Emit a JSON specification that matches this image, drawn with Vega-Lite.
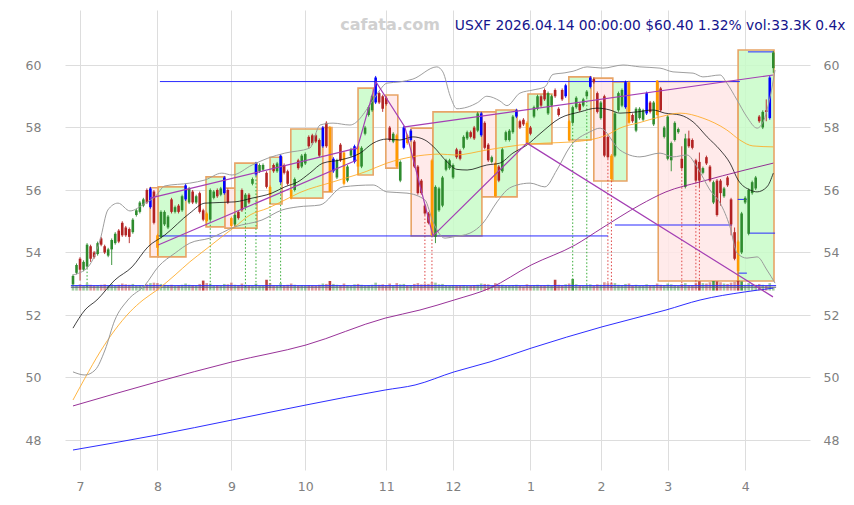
{
"$schema":"https://vega.github.io/schema/vega-lite/v6.json",
"width":745,"height":460,
"autosize":{"type":"none"},
"padding":{"left":65,"top":10,"right":44,"bottom":35},
"background":"white",
"config":{"view":{"stroke":null},"font":"DejaVu Sans"},
"datasets":{
"c":[
{"i":0,"o":52.98,"h":53.3,"l":52.95,"c":53.25,"v":70,"s":"g"},
{"i":1,"o":53.35,"h":53.65,"l":53.3,"c":53.6,"v":65,"s":"g"},
{"i":2,"o":53.8,"h":53.85,"l":53.1,"c":53.45,"v":75,"s":"r"},
{"i":3,"o":53.45,"h":53.75,"l":53.4,"c":53.7,"v":60,"s":"g"},
{"i":4,"o":53.55,"h":54.3,"l":53.5,"c":54.25,"v":85,"s":"g"},
{"i":5,"o":54.2,"h":54.25,"l":53.7,"c":53.8,"v":70,"s":"r"},
{"i":6,"o":54.0,"h":54.05,"l":53.8,"c":53.85,"v":60,"s":"r"},
{"i":7,"o":53.95,"h":54.35,"l":53.9,"c":54.3,"v":65,"s":"g"},
{"i":8,"o":54.45,"h":54.5,"l":54.2,"c":54.25,"v":70,"s":"r"},
{"i":9,"o":54.2,"h":54.25,"l":53.95,"c":54.0,"v":75,"s":"r"},
{"i":10,"o":53.9,"h":54.15,"l":53.85,"c":54.1,"v":60,"s":"g"},
{"i":11,"o":54.1,"h":54.45,"l":53.6,"c":54.4,"v":80,"s":"g"},
{"i":12,"o":54.3,"h":54.65,"l":54.25,"c":54.6,"v":65,"s":"g"},
{"i":13,"o":54.7,"h":54.75,"l":54.3,"c":54.35,"v":70,"s":"r"},
{"i":14,"o":54.95,"h":55.0,"l":54.5,"c":54.55,"v":85,"s":"r"},
{"i":15,"o":54.8,"h":54.85,"l":54.5,"c":54.55,"v":75,"s":"r"},
{"i":16,"o":54.75,"h":54.8,"l":54.3,"c":54.5,"v":70,"s":"r"},
{"i":17,"o":54.65,"h":55.1,"l":54.6,"c":55.05,"v":80,"s":"g"},
{"i":18,"o":55.2,"h":55.4,"l":55.15,"c":55.35,"v":60,"s":"g"},
{"i":19,"o":55.3,"h":55.65,"l":55.25,"c":55.6,"v":65,"s":"g"},
{"i":20,"o":55.5,"h":55.75,"l":55.45,"c":55.7,"v":60,"s":"g"},
{"i":21,"o":56.0,"h":56.05,"l":55.55,"c":55.6,"v":75,"s":"r"},
{"i":22,"o":55.45,"h":56.1,"l":55.4,"c":56.05,"v":90,"s":"b"},
{"i":23,"o":55.95,"h":56.0,"l":54.9,"c":54.95,"v":95,"s":"r"},
{"i":24,"o":54.55,"h":54.6,"l":53.9,"c":54.15,"v":90,"s":"o"},
{"i":25,"o":54.5,"h":55.35,"l":54.45,"c":55.3,"v":80,"s":"g"},
{"i":26,"o":54.9,"h":55.35,"l":54.85,"c":55.3,"v":70,"s":"g"},
{"i":27,"o":54.8,"h":55.2,"l":54.75,"c":55.15,"v":65,"s":"g"},
{"i":28,"o":55.7,"h":55.75,"l":55.25,"c":55.3,"v":70,"s":"r"},
{"i":29,"o":55.3,"h":55.5,"l":55.25,"c":55.45,"v":55,"s":"g"},
{"i":30,"o":55.5,"h":55.55,"l":55.25,"c":55.3,"v":60,"s":"r"},
{"i":31,"o":55.35,"h":55.85,"l":55.3,"c":55.8,"v":70,"s":"g"},
{"i":32,"o":55.7,"h":56.2,"l":55.65,"c":56.15,"v":85,"s":"b"},
{"i":33,"o":55.6,"h":56.1,"l":55.55,"c":56.05,"v":70,"s":"g"},
{"i":34,"o":55.95,"h":56.0,"l":55.55,"c":55.6,"v":65,"s":"r"},
{"i":35,"o":55.6,"h":55.85,"l":55.55,"c":55.8,"v":60,"s":"g"},
{"i":36,"o":55.9,"h":55.95,"l":55.25,"c":55.3,"v":80,"s":"r"},
{"i":37,"o":55.35,"h":55.4,"l":55.0,"c":55.05,"v":120,"s":"r"},
{"i":38,"o":55.25,"h":55.3,"l":54.85,"c":55.0,"v":90,"s":"o"},
{"i":39,"o":55.05,"h":56.05,"l":55.0,"c":56.0,"v":85,"s":"g"},
{"i":40,"o":55.75,"h":56.0,"l":55.7,"c":55.95,"v":60,"s":"g"},
{"i":41,"o":56.0,"h":56.05,"l":55.75,"c":55.8,"v":65,"s":"r"},
{"i":42,"o":55.85,"h":56.1,"l":55.8,"c":56.05,"v":60,"s":"g"},
{"i":43,"o":55.9,"h":56.45,"l":55.85,"c":56.4,"v":80,"s":"b"},
{"i":44,"o":56.0,"h":56.05,"l":55.55,"c":55.6,"v":75,"s":"r"},
{"i":45,"o":55.1,"h":55.15,"l":54.8,"c":54.85,"v":95,"s":"o"},
{"i":46,"o":54.9,"h":55.25,"l":54.85,"c":55.2,"v":70,"s":"g"},
{"i":47,"o":55.3,"h":55.35,"l":55.05,"c":55.1,"v":65,"s":"r"},
{"i":48,"o":56.0,"h":56.05,"l":55.3,"c":55.35,"v":85,"s":"r"},
{"i":49,"o":55.45,"h":55.9,"l":55.4,"c":55.85,"v":70,"s":"g"},
{"i":50,"o":55.85,"h":55.9,"l":55.55,"c":55.6,"v":65,"s":"r"},
{"i":51,"o":56.2,"h":56.4,"l":56.15,"c":56.35,"v":60,"s":"g"},
{"i":52,"o":56.5,"h":56.9,"l":56.45,"c":56.85,"v":85,"s":"b"},
{"i":53,"o":56.6,"h":56.85,"l":56.55,"c":56.8,"v":55,"s":"g"},
{"i":54,"o":56.65,"h":56.85,"l":56.6,"c":56.8,"v":55,"s":"g"},
{"i":55,"o":56.55,"h":56.6,"l":56.05,"c":56.1,"v":130,"s":"r"},
{"i":56,"o":56.1,"h":56.15,"l":55.6,"c":55.85,"v":90,"s":"o"},
{"i":57,"o":56.8,"h":56.85,"l":56.55,"c":56.6,"v":60,"s":"r"},
{"i":58,"o":56.6,"h":56.9,"l":56.55,"c":56.85,"v":60,"s":"g"},
{"i":59,"o":56.25,"h":57.15,"l":56.2,"c":57.1,"v":90,"s":"b"},
{"i":60,"o":56.8,"h":56.85,"l":56.5,"c":56.55,"v":65,"s":"r"},
{"i":61,"o":56.6,"h":56.65,"l":56.15,"c":56.2,"v":70,"s":"r"},
{"i":62,"o":56.0,"h":56.05,"l":55.7,"c":55.75,"v":85,"s":"o"},
{"i":63,"o":56.0,"h":56.4,"l":55.95,"c":56.35,"v":70,"s":"g"},
{"i":64,"o":56.95,"h":57.0,"l":56.65,"c":56.7,"v":60,"s":"r"},
{"i":65,"o":56.75,"h":57.15,"l":56.7,"c":57.1,"v":65,"s":"g"},
{"i":66,"o":56.85,"h":57.2,"l":56.8,"c":57.15,"v":60,"s":"g"},
{"i":67,"o":57.7,"h":57.75,"l":57.35,"c":57.4,"v":65,"s":"r"},
{"i":68,"o":57.75,"h":57.8,"l":57.45,"c":57.5,"v":60,"s":"r"},
{"i":69,"o":57.75,"h":57.8,"l":57.5,"c":57.55,"v":55,"s":"r"},
{"i":70,"o":57.6,"h":57.65,"l":57.05,"c":57.1,"v":70,"s":"r"},
{"i":71,"o":57.4,"h":58.05,"l":57.35,"c":58.0,"v":85,"s":"b"},
{"i":72,"o":58.15,"h":58.2,"l":57.35,"c":57.4,"v":80,"s":"r"},
{"i":73,"o":58.0,"h":58.05,"l":55.94,"c":55.95,"v":115,"s":"o"},
{"i":74,"o":56.6,"h":57.05,"l":56.55,"c":57.0,"v":80,"s":"b"},
{"i":75,"o":56.4,"h":57.0,"l":56.35,"c":56.95,"v":70,"s":"g"},
{"i":76,"o":57.45,"h":57.5,"l":56.9,"c":56.95,"v":65,"s":"r"},
{"i":77,"o":57.2,"h":57.25,"l":56.15,"c":56.2,"v":85,"s":"o"},
{"i":78,"o":56.3,"h":56.8,"l":56.25,"c":56.75,"v":65,"s":"g"},
{"i":79,"o":57.1,"h":57.35,"l":57.05,"c":57.3,"v":55,"s":"g"},
{"i":80,"o":56.9,"h":57.45,"l":56.85,"c":57.4,"v":75,"s":"b"},
{"i":81,"o":57.4,"h":57.45,"l":56.48,"c":56.75,"v":80,"s":"o"},
{"i":82,"o":56.75,"h":57.4,"l":56.7,"c":57.35,"v":70,"s":"g"},
{"i":83,"o":57.8,"h":58.05,"l":57.75,"c":58.0,"v":60,"s":"g"},
{"i":84,"o":58.4,"h":58.7,"l":58.35,"c":58.65,"v":65,"s":"g"},
{"i":85,"o":58.55,"h":59.05,"l":58.5,"c":59.0,"v":70,"s":"g"},
{"i":86,"o":58.8,"h":59.65,"l":58.75,"c":59.6,"v":95,"s":"b"},
{"i":87,"o":59.1,"h":59.15,"l":58.75,"c":58.8,"v":70,"s":"r"},
{"i":88,"o":59.0,"h":59.05,"l":58.5,"c":58.6,"v":75,"s":"r"},
{"i":89,"o":58.95,"h":59.0,"l":58.7,"c":58.75,"v":60,"s":"r"},
{"i":90,"o":58.0,"h":58.05,"l":57.55,"c":57.6,"v":85,"s":"r"},
{"i":91,"o":57.55,"h":57.85,"l":57.5,"c":57.8,"v":60,"s":"g"},
{"i":92,"o":57.75,"h":57.8,"l":56.7,"c":56.75,"v":90,"s":"o"},
{"i":93,"o":56.3,"h":56.95,"l":56.25,"c":56.9,"v":75,"s":"g"},
{"i":94,"o":57.35,"h":58.05,"l":57.3,"c":58.0,"v":80,"s":"b"},
{"i":95,"o":57.75,"h":57.8,"l":57.45,"c":57.5,"v":60,"s":"o"},
{"i":96,"o":57.6,"h":57.95,"l":57.55,"c":57.9,"v":65,"s":"b"},
{"i":97,"o":57.55,"h":57.6,"l":56.7,"c":56.75,"v":80,"s":"r"},
{"i":98,"o":56.75,"h":56.8,"l":55.85,"c":55.9,"v":90,"s":"r"},
{"i":99,"o":56.3,"h":56.35,"l":55.85,"c":55.9,"v":75,"s":"r"},
{"i":100,"o":55.5,"h":55.55,"l":55.2,"c":55.25,"v":85,"s":"r"},
{"i":101,"o":55.25,"h":55.3,"l":54.9,"c":54.95,"v":80,"s":"r"},
{"i":102,"o":56.95,"h":57.0,"l":54.53,"c":54.55,"v":100,"s":"o"},
{"i":103,"o":54.5,"h":56.15,"l":54.3,"c":56.1,"v":95,"s":"g"},
{"i":104,"o":55.35,"h":56.1,"l":55.3,"c":56.05,"v":75,"s":"g"},
{"i":105,"o":55.5,"h":56.45,"l":55.45,"c":56.4,"v":80,"s":"g"},
{"i":106,"o":56.65,"h":57.0,"l":56.6,"c":56.95,"v":65,"s":"g"},
{"i":107,"o":56.7,"h":57.0,"l":56.65,"c":56.95,"v":60,"s":"g"},
{"i":108,"o":56.4,"h":56.85,"l":56.35,"c":56.8,"v":65,"s":"g"},
{"i":109,"o":57.3,"h":57.35,"l":57.0,"c":57.05,"v":60,"s":"r"},
{"i":110,"o":57.25,"h":57.3,"l":56.95,"c":57.0,"v":60,"s":"r"},
{"i":111,"o":57.35,"h":57.75,"l":57.3,"c":57.7,"v":65,"s":"g"},
{"i":112,"o":57.65,"h":57.9,"l":57.6,"c":57.85,"v":55,"s":"g"},
{"i":113,"o":57.85,"h":57.9,"l":57.65,"c":57.7,"v":55,"s":"r"},
{"i":114,"o":58.0,"h":58.05,"l":57.6,"c":57.65,"v":65,"s":"r"},
{"i":115,"o":57.9,"h":58.5,"l":57.85,"c":58.45,"v":70,"s":"g"},
{"i":116,"o":57.75,"h":58.5,"l":57.7,"c":58.45,"v":85,"s":"b"},
{"i":117,"o":58.15,"h":58.2,"l":57.3,"c":57.35,"v":80,"s":"r"},
{"i":118,"o":57.45,"h":57.5,"l":56.9,"c":56.95,"v":75,"s":"r"},
{"i":119,"o":56.9,"h":57.1,"l":56.85,"c":57.05,"v":55,"s":"g"},
{"i":120,"o":56.85,"h":56.9,"l":55.78,"c":55.8,"v":90,"s":"o"},
{"i":121,"o":56.75,"h":56.8,"l":56.25,"c":56.3,"v":70,"s":"r"},
{"i":122,"o":56.6,"h":57.35,"l":56.55,"c":57.3,"v":70,"s":"g"},
{"i":123,"o":57.6,"h":57.9,"l":57.55,"c":57.85,"v":60,"s":"g"},
{"i":124,"o":57.6,"h":57.95,"l":57.55,"c":57.9,"v":60,"s":"g"},
{"i":125,"o":57.85,"h":58.4,"l":57.8,"c":58.35,"v":65,"s":"g"},
{"i":126,"o":58.35,"h":58.6,"l":58.3,"c":58.55,"v":70,"s":"b"},
{"i":127,"o":58.2,"h":58.25,"l":57.95,"c":58.0,"v":55,"s":"r"},
{"i":128,"o":58.25,"h":58.3,"l":58.05,"c":58.1,"v":50,"s":"r"},
{"i":129,"o":58.15,"h":58.2,"l":57.47,"c":57.5,"v":75,"s":"o"},
{"i":130,"o":58.0,"h":58.05,"l":57.75,"c":57.8,"v":60,"s":"r"},
{"i":131,"o":58.35,"h":58.7,"l":58.3,"c":58.65,"v":65,"s":"g"},
{"i":132,"o":58.6,"h":59.05,"l":58.55,"c":59.0,"v":70,"s":"g"},
{"i":133,"o":59.0,"h":59.05,"l":58.65,"c":58.7,"v":60,"s":"r"},
{"i":134,"o":59.2,"h":59.25,"l":58.85,"c":58.9,"v":60,"s":"r"},
{"i":135,"o":58.45,"h":59.15,"l":58.4,"c":59.1,"v":70,"s":"g"},
{"i":136,"o":58.7,"h":59.05,"l":58.65,"c":59.0,"v":55,"s":"g"},
{"i":137,"o":59.2,"h":59.25,"l":58.95,"c":59.0,"v":130,"s":"r"},
{"i":138,"o":58.6,"h":58.65,"l":58.35,"c":58.4,"v":70,"s":"r"},
{"i":139,"o":59.2,"h":59.25,"l":58.85,"c":58.9,"v":60,"s":"r"},
{"i":140,"o":59.0,"h":59.4,"l":58.95,"c":59.35,"v":75,"s":"b"},
{"i":141,"o":58.2,"h":58.25,"l":57.55,"c":57.6,"v":85,"s":"o"},
{"i":142,"o":58.15,"h":58.7,"l":58.1,"c":58.65,"v":140,"s":"g"},
{"i":143,"o":58.65,"h":59.0,"l":58.6,"c":58.95,"v":75,"s":"g"},
{"i":144,"o":58.75,"h":58.8,"l":58.5,"c":58.55,"v":60,"s":"r"},
{"i":145,"o":58.7,"h":58.95,"l":58.65,"c":58.9,"v":55,"s":"g"},
{"i":146,"o":59.0,"h":59.2,"l":58.95,"c":59.15,"v":60,"s":"g"},
{"i":147,"o":59.3,"h":59.65,"l":59.25,"c":59.6,"v":75,"s":"b"},
{"i":148,"o":59.55,"h":59.6,"l":59.4,"c":59.45,"v":55,"s":"r"},
{"i":149,"o":59.1,"h":59.15,"l":58.45,"c":58.5,"v":75,"s":"r"},
{"i":150,"o":58.3,"h":58.85,"l":58.25,"c":58.8,"v":70,"s":"g"},
{"i":151,"o":59.0,"h":59.05,"l":57.05,"c":57.1,"v":100,"s":"r"},
{"i":152,"o":57.7,"h":57.75,"l":57.0,"c":57.05,"v":90,"s":"r"},
{"i":153,"o":57.1,"h":57.15,"l":56.29,"c":56.35,"v":95,"s":"o"},
{"i":154,"o":57.1,"h":58.5,"l":57.05,"c":58.45,"v":90,"s":"g"},
{"i":155,"o":58.55,"h":59.15,"l":58.5,"c":59.1,"v":70,"s":"g"},
{"i":156,"o":58.7,"h":59.25,"l":58.65,"c":59.2,"v":65,"s":"g"},
{"i":157,"o":58.65,"h":59.5,"l":58.6,"c":59.45,"v":80,"s":"b"},
{"i":158,"o":59.45,"h":59.5,"l":58.1,"c":58.15,"v":85,"s":"o"},
{"i":159,"o":58.4,"h":58.45,"l":58.15,"c":58.2,"v":60,"s":"r"},
{"i":160,"o":57.9,"h":58.65,"l":57.85,"c":58.6,"v":70,"s":"g"},
{"i":161,"o":58.3,"h":58.65,"l":58.25,"c":58.6,"v":55,"s":"g"},
{"i":162,"o":58.25,"h":58.6,"l":58.2,"c":58.55,"v":55,"s":"g"},
{"i":163,"o":58.45,"h":59.15,"l":58.4,"c":59.1,"v":75,"s":"b"},
{"i":164,"o":58.8,"h":58.85,"l":58.45,"c":58.5,"v":60,"s":"r"},
{"i":165,"o":58.1,"h":58.85,"l":58.05,"c":58.8,"v":65,"s":"g"},
{"i":166,"o":59.5,"h":59.52,"l":58.35,"c":58.4,"v":85,"s":"o"},
{"i":167,"o":59.25,"h":59.3,"l":58.5,"c":58.55,"v":70,"s":"r"},
{"i":168,"o":57.7,"h":58.05,"l":57.65,"c":58.0,"v":65,"s":"g"},
{"i":169,"o":57.0,"h":58.4,"l":56.95,"c":58.35,"v":85,"s":"g"},
{"i":170,"o":56.95,"h":57.55,"l":56.6,"c":57.5,"v":75,"s":"g"},
{"i":171,"o":57.6,"h":58.2,"l":57.55,"c":58.15,"v":65,"s":"g"},
{"i":172,"o":57.85,"h":58.0,"l":57.8,"c":57.95,"v":55,"s":"g"},
{"i":173,"o":57.0,"h":57.4,"l":56.65,"c":56.7,"v":80,"s":"r"},
{"i":174,"o":56.1,"h":57.8,"l":56.05,"c":57.65,"v":90,"s":"g"},
{"i":175,"o":57.65,"h":57.9,"l":57.35,"c":57.4,"v":65,"s":"r"},
{"i":176,"o":57.6,"h":57.65,"l":57.3,"c":57.35,"v":65,"s":"r"},
{"i":177,"o":56.95,"h":57.0,"l":56.25,"c":56.3,"v":95,"s":"r"},
{"i":178,"o":56.9,"h":57.2,"l":56.1,"c":56.3,"v":110,"s":"r"},
{"i":179,"o":56.55,"h":56.75,"l":56.5,"c":56.7,"v":90,"s":"g"},
{"i":180,"o":57.05,"h":57.1,"l":56.8,"c":56.85,"v":85,"s":"r"},
{"i":181,"o":56.75,"h":56.8,"l":56.25,"c":56.3,"v":100,"s":"r"},
{"i":182,"o":55.6,"h":56.3,"l":55.55,"c":56.25,"v":115,"s":"g"},
{"i":183,"o":56.3,"h":56.35,"l":55.15,"c":55.2,"v":110,"s":"r"},
{"i":184,"o":56.3,"h":56.35,"l":55.5,"c":55.9,"v":100,"s":"r"},
{"i":185,"o":55.8,"h":56.1,"l":55.75,"c":56.05,"v":85,"s":"g"},
{"i":186,"o":56.4,"h":56.45,"l":56.1,"c":56.15,"v":80,"s":"r"},
{"i":187,"o":55.7,"h":55.75,"l":54.55,"c":54.9,"v":95,"s":"r"},
{"i":188,"o":54.65,"h":54.8,"l":53.75,"c":53.8,"v":105,"s":"r"},
{"i":189,"o":54.35,"h":54.4,"l":53.1,"c":53.4,"v":120,"s":"o"},
{"i":190,"o":54.0,"h":55.3,"l":53.95,"c":55.25,"v":110,"s":"g"},
{"i":191,"o":55.6,"h":55.8,"l":55.55,"c":55.75,"v":70,"s":"g"},
{"i":192,"o":54.6,"h":56.05,"l":54.55,"c":56.0,"v":90,"s":"g"},
{"i":193,"o":55.9,"h":56.3,"l":55.85,"c":56.25,"v":75,"s":"g"},
{"i":194,"o":56.05,"h":56.45,"l":56.0,"c":56.4,"v":70,"s":"g"},
{"i":195,"o":58.35,"h":58.4,"l":58.15,"c":58.2,"v":80,"s":"r"},
{"i":196,"o":58.0,"h":58.55,"l":57.95,"c":58.5,"v":70,"s":"g"},
{"i":197,"o":58.55,"h":58.9,"l":58.2,"c":58.5,"v":55,"s":"r"},
{"i":198,"o":58.3,"h":59.65,"l":58.25,"c":59.6,"v":90,"s":"b"},
{"i":199,"o":59.9,"h":60.45,"l":59.75,"c":60.4,"v":33.3,"s":"g"}
],
"boxes":[
{"i":21.9,"i2":24.2,"p1":53.86,"p2":56.07,"t":"r"},
{"i":24.2,"i2":32.1,"p1":53.86,"p2":56.1,"t":"g"},
{"i":37.8,"i2":43.2,"p1":54.82,"p2":56.42,"t":"g"},
{"i":43.2,"i2":46.0,"p1":54.78,"p2":56.06,"t":"r"},
{"i":46.0,"i2":52.3,"p1":54.78,"p2":56.86,"t":"g"},
{"i":56.0,"i2":59.4,"p1":55.55,"p2":57.05,"t":"g"},
{"i":61.9,"i2":71.0,"p1":55.74,"p2":57.95,"t":"g"},
{"i":71.0,"i2":73.6,"p1":55.94,"p2":58.0,"t":"r"},
{"i":81.0,"i2":85.3,"p1":56.48,"p2":59.26,"t":"g"},
{"i":88.9,"i2":92.3,"p1":56.7,"p2":59.04,"t":"r"},
{"i":96.1,"i2":102.3,"p1":54.53,"p2":57.98,"t":"r"},
{"i":102.3,"i2":116.2,"p1":54.53,"p2":58.5,"t":"g"},
{"i":116.2,"i2":120.2,"p1":55.78,"p2":58.5,"t":"r"},
{"i":120.2,"i2":126.2,"p1":55.78,"p2":58.56,"t":"g"},
{"i":129.3,"i2":136.1,"p1":57.47,"p2":59.07,"t":"g"},
{"i":140.9,"i2":147.2,"p1":57.6,"p2":59.62,"t":"g"},
{"i":148.0,"i2":153.4,"p1":56.29,"p2":59.58,"t":"r"},
{"i":153.4,"i2":157.4,"p1":56.29,"p2":59.46,"t":"g"},
{"i":166.3,"i2":189.0,"p1":53.09,"p2":59.47,"t":"r"},
{"i":189.0,"i2":199.2,"p1":53.09,"p2":60.48,"t":"g"}
],
"lines":[
{"k":"ma20","i":0,"v":51.58},{"k":"ma20","i":3.4,"v":52.16},{"k":"ma20","i":6.8,"v":52.48},{"k":"ma20","i":11.9,"v":53.12},{"k":"ma20","i":16.8,"v":53.54},{"k":"ma20","i":21.3,"v":54.18},{"k":"ma20","i":26.1,"v":54.56},{"k":"ma20","i":33.2,"v":55.26},{"k":"ma20","i":37.5,"v":55.58},{"k":"ma20","i":46,"v":55.62},{"k":"ma20","i":50.9,"v":55.74},{"k":"ma20","i":56.5,"v":55.9},{"k":"ma20","i":60.2,"v":56.1},{"k":"ma20","i":63.9,"v":56.26},{"k":"ma20","i":67.3,"v":56.54},{"k":"ma20","i":71,"v":56.86},{"k":"ma20","i":75.9,"v":56.96},{"k":"ma20","i":81.6,"v":57.18},{"k":"ma20","i":85.3,"v":57.5},{"k":"ma20","i":89.2,"v":57.63},{"k":"ma20","i":92.9,"v":57.6},{"k":"ma20","i":96.6,"v":57.7},{"k":"ma20","i":100,"v":57.6},{"k":"ma20","i":102.3,"v":57.4},{"k":"ma20","i":106.3,"v":56.9},{"k":"ma20","i":109.1,"v":56.66},{"k":"ma20","i":112,"v":56.64},{"k":"ma20","i":117.6,"v":56.8},{"k":"ma20","i":121.3,"v":56.86},{"k":"ma20","i":125,"v":57.18},{"k":"ma20","i":129,"v":57.44},{"k":"ma20","i":132.7,"v":57.8},{"k":"ma20","i":138.4,"v":58.3},{"k":"ma20","i":144.1,"v":58.5},{"k":"ma20","i":148.9,"v":58.62},{"k":"ma20","i":152.6,"v":58.56},{"k":"ma20","i":155.4,"v":58.46},{"k":"ma20","i":160.3,"v":58.5},{"k":"ma20","i":164.8,"v":58.56},{"k":"ma20","i":168.2,"v":58.46},{"k":"ma20","i":172.5,"v":58.4},{"k":"ma20","i":176.2,"v":58.18},{"k":"ma20","i":180.2,"v":57.7},{"k":"ma20","i":183.9,"v":57.28},{"k":"ma20","i":186.7,"v":56.86},{"k":"ma20","i":189,"v":56.32},{"k":"ma20","i":192.4,"v":56.0},{"k":"ma20","i":194.4,"v":55.94},{"k":"ma20","i":197.2,"v":56.1},{"k":"ma20","i":199,"v":56.54},
{"k":"ma50","i":0,"v":49.28},{"k":"ma50","i":3.4,"v":49.98},{"k":"ma50","i":7.7,"v":50.82},{"k":"ma50","i":11.9,"v":51.52},{"k":"ma50","i":16.2,"v":52.1},{"k":"ma50","i":19.9,"v":52.48},{"k":"ma50","i":23.9,"v":52.8},{"k":"ma50","i":29,"v":53.28},{"k":"ma50","i":33.2,"v":53.7},{"k":"ma50","i":37.5,"v":54.08},{"k":"ma50","i":41.8,"v":54.46},{"k":"ma50","i":46,"v":54.82},{"k":"ma50","i":50.3,"v":55.2},{"k":"ma50","i":55.4,"v":55.42},{"k":"ma50","i":60.2,"v":55.68},{"k":"ma50","i":64.5,"v":55.92},{"k":"ma50","i":73.9,"v":56.26},{"k":"ma50","i":83.5,"v":56.6},{"k":"ma50","i":89.2,"v":56.86},{"k":"ma50","i":92.9,"v":56.98},{"k":"ma50","i":100,"v":57.12},{"k":"ma50","i":104.3,"v":57.15},{"k":"ma50","i":108.6,"v":57.12},{"k":"ma50","i":117.6,"v":57.28},{"k":"ma50","i":127,"v":57.44},{"k":"ma50","i":134.1,"v":57.5},{"k":"ma50","i":142.1,"v":57.54},{"k":"ma50","i":151.7,"v":57.76},{"k":"ma50","i":155.4,"v":57.98},{"k":"ma50","i":161.1,"v":58.16},{"k":"ma50","i":166.8,"v":58.34},{"k":"ma50","i":172.5,"v":58.46},{"k":"ma50","i":179,"v":58.3},{"k":"ma50","i":185.8,"v":57.92},{"k":"ma50","i":189.5,"v":57.6},{"k":"ma50","i":193.2,"v":57.41},{"k":"ma50","i":199,"v":57.38},
{"k":"ma100","i":0,"v":49.09},{"k":"ma100","i":23.9,"v":49.86},{"k":"ma100","i":45.2,"v":50.5},{"k":"ma100","i":66.2,"v":51.04},{"k":"ma100","i":88.7,"v":51.9},{"k":"ma100","i":98.6,"v":52.16},{"k":"ma100","i":108.3,"v":52.48},{"k":"ma100","i":118.5,"v":52.86},{"k":"ma100","i":130.2,"v":53.6},{"k":"ma100","i":142.7,"v":54.24},{"k":"ma100","i":150.3,"v":54.78},{"k":"ma100","i":161.1,"v":55.52},{"k":"ma100","i":168.5,"v":55.94},{"k":"ma100","i":178.2,"v":56.26},{"k":"ma100","i":191,"v":56.64},{"k":"ma100","i":199,"v":56.86},
{"k":"ma200","i":0,"v":47.68},{"k":"ma200","i":23.9,"v":48.16},{"k":"ma200","i":45.2,"v":48.64},{"k":"ma200","i":66.2,"v":49.12},{"k":"ma200","i":88.7,"v":49.6},{"k":"ma200","i":97.2,"v":49.76},{"k":"ma200","i":108.3,"v":50.18},{"k":"ma200","i":118.5,"v":50.5},{"k":"ma200","i":130.2,"v":50.94},{"k":"ma200","i":150.3,"v":51.62},{"k":"ma200","i":168.5,"v":52.16},{"k":"ma200","i":178.2,"v":52.48},{"k":"ma200","i":191,"v":52.74},{"k":"ma200","i":199,"v":52.86},
{"k":"bbu","i":0,"v":53.28},{"k":"bbu","i":4.3,"v":53.54},{"k":"bbu","i":7.7,"v":54.4},{"k":"bbu","i":9.9,"v":55.36},{"k":"bbu","i":12.8,"v":55.58},{"k":"bbu","i":16.2,"v":55.33},{"k":"bbu","i":20.5,"v":55.58},{"k":"bbu","i":23.3,"v":55.78},{"k":"bbu","i":26.1,"v":56.13},{"k":"bbu","i":33.2,"v":56.22},{"k":"bbu","i":37.5,"v":56.32},{"k":"bbu","i":42.3,"v":56.54},{"k":"bbu","i":45.2,"v":56.48},{"k":"bbu","i":50.9,"v":56.8},{"k":"bbu","i":55.4,"v":57.02},{"k":"bbu","i":60.2,"v":57.18},{"k":"bbu","i":67.3,"v":57.34},{"k":"bbu","i":70.2,"v":58.08},{"k":"bbu","i":73.9,"v":58.14},{"k":"bbu","i":78.7,"v":58.08},{"k":"bbu","i":85.3,"v":58.88},{"k":"bbu","i":87.2,"v":59.2},{"k":"bbu","i":89.2,"v":59.42},{"k":"bbu","i":92.9,"v":59.46},{"k":"bbu","i":96.6,"v":59.55},{"k":"bbu","i":103.4,"v":59.94},{"k":"bbu","i":105.1,"v":59.78},{"k":"bbu","i":107.2,"v":59.0},{"k":"bbu","i":109.1,"v":58.6},{"k":"bbu","i":112,"v":58.65},{"k":"bbu","i":115,"v":58.8},{"k":"bbu","i":117.6,"v":59.0},{"k":"bbu","i":121.3,"v":58.85},{"k":"bbu","i":123.3,"v":58.7},{"k":"bbu","i":127,"v":59.1},{"k":"bbu","i":130.7,"v":59.2},{"k":"bbu","i":134.1,"v":59.3},{"k":"bbu","i":136.4,"v":59.7},{"k":"bbu","i":139.8,"v":59.75},{"k":"bbu","i":142.1,"v":59.8},{"k":"bbu","i":146.1,"v":59.94},{"k":"bbu","i":150.6,"v":59.9},{"k":"bbu","i":156.3,"v":60.0},{"k":"bbu","i":161.1,"v":59.94},{"k":"bbu","i":166.8,"v":59.9},{"k":"bbu","i":170.5,"v":59.78},{"k":"bbu","i":176.2,"v":59.74},{"k":"bbu","i":179,"v":59.62},{"k":"bbu","i":183.9,"v":59.68},{"k":"bbu","i":185.8,"v":59.42},{"k":"bbu","i":188.7,"v":58.88},{"k":"bbu","i":191.5,"v":58.34},{"k":"bbu","i":194.4,"v":57.98},{"k":"bbu","i":196.1,"v":58.18},{"k":"bbu","i":198.1,"v":58.98},{"k":"bbu","i":199.5,"v":59.84},
{"k":"bbl","i":0,"v":50.18},{"k":"bbl","i":3.4,"v":50.08},{"k":"bbl","i":6.3,"v":50.24},{"k":"bbl","i":9.1,"v":50.88},{"k":"bbl","i":11.9,"v":51.84},{"k":"bbl","i":15.6,"v":52.48},{"k":"bbl","i":20.5,"v":52.96},{"k":"bbl","i":24.2,"v":53.54},{"k":"bbl","i":29,"v":53.98},{"k":"bbl","i":33.2,"v":54.3},{"k":"bbl","i":38.9,"v":54.46},{"k":"bbl","i":46,"v":54.82},{"k":"bbl","i":53.7,"v":55.04},{"k":"bbl","i":59.4,"v":55.36},{"k":"bbl","i":63.9,"v":55.46},{"k":"bbl","i":70.2,"v":55.52},{"k":"bbl","i":76.7,"v":56.1},{"k":"bbl","i":85.3,"v":56.16},{"k":"bbl","i":89.2,"v":55.94},{"k":"bbl","i":94.9,"v":55.9},{"k":"bbl","i":100,"v":55.68},{"k":"bbl","i":102.3,"v":54.98},{"k":"bbl","i":105.7,"v":54.46},{"k":"bbl","i":108,"v":54.5},{"k":"bbl","i":112.8,"v":54.62},{"k":"bbl","i":116.5,"v":54.94},{"k":"bbl","i":120.5,"v":55.62},{"k":"bbl","i":123.3,"v":56.0},{"k":"bbl","i":126.2,"v":56.16},{"k":"bbl","i":129.9,"v":56.22},{"k":"bbl","i":134.1,"v":56.1},{"k":"bbl","i":137.5,"v":56.64},{"k":"bbl","i":141.2,"v":57.38},{"k":"bbl","i":146.9,"v":57.86},{"k":"bbl","i":149.8,"v":57.98},{"k":"bbl","i":155.4,"v":57.28},{"k":"bbl","i":161.1,"v":57.06},{"k":"bbl","i":166.8,"v":57.18},{"k":"bbl","i":170.5,"v":57.06},{"k":"bbl","i":174.5,"v":57.12},{"k":"bbl","i":177.3,"v":56.74},{"k":"bbl","i":181,"v":56.0},{"k":"bbl","i":183.9,"v":55.58},{"k":"bbl","i":186.7,"v":54.82},{"k":"bbl","i":188.7,"v":53.98},{"k":"bbl","i":191.5,"v":53.82},{"k":"bbl","i":194.4,"v":53.86},{"k":"bbl","i":197.2,"v":53.44},{"k":"bbl","i":199.5,"v":53.02}
],
"tl":[
{"g":"a","i":21.9,"v":55.74},{"g":"a","i":80.7,"v":57.34},
{"g":"b","i":24.2,"v":54.24},{"g":"b","i":80.7,"v":56.96},
{"g":"z","i":80.7,"v":57.3},{"g":"z","i":86.1,"v":59.46},{"g":"z","i":94.3,"v":58.02},{"g":"z","i":102.3,"v":54.53},{"g":"z","i":129,"v":57.5},{"g":"z","i":198.9,"v":52.58},
{"g":"u","i":94.3,"v":58.02},{"g":"u","i":198.9,"v":59.68}
],
"hl":[
{"i":24.7,"i2":189.5,"v":59.47,"k":"b"},
{"i":23.9,"i2":152,"v":54.53,"k":"b"},
{"i":154,"i2":187.3,"v":54.88,"k":"b"},
{"i":188.9,"i2":191.5,"v":55.7,"k":"b"},
{"i":191.8,"i2":199.5,"v":54.62,"k":"b"},
{"i":188.9,"i2":191.5,"v":53.34,"k":"b"},
{"i":191.8,"i2":199,"v":60.42,"k":"b"},
{"i":-0.6,"i2":199.8,"v":52.94,"k":"b"},
{"i":-0.6,"i2":199.8,"v":52.89,"k":"d"}
],
"dots":[
{"i":4,"lo":53.5,"k":"g"},{"i":39,"lo":55.0,"k":"g"},{"i":49,"lo":55.4,"k":"g"},{"i":52,"lo":56.45,"k":"g"},{"i":56,"lo":55.6,"k":"g"},{"i":59,"lo":56.2,"k":"g"},{"i":142,"lo":58.1,"k":"g"},{"i":146,"lo":58.95,"k":"g"},
{"i":100,"lo":55.2,"k":"r"},{"i":102,"lo":54.53,"k":"r"},{"i":152,"lo":57.0,"k":"r"},{"i":153,"lo":56.29,"k":"r"},{"i":173,"lo":56.65,"k":"r"},{"i":177,"lo":56.25,"k":"r"},{"i":178,"lo":56.1,"k":"r"}
],
"wm":[{"t":"cafata.com"}],
"hdr":[{"t":"USXF 2026.04.14 00:00:00 $60.40 1.32% vol:33.3K 0.4x"}]
},
"layer":[
{"data":{"name":"boxes"},"mark":{"type":"rect","stroke":"#e8a466","strokeWidth":1.6},
"encoding":{
"x":{"field":"i","type":"quantitative","scale":{"domain":[-2.27,209.43],"nice":false,"zero":false,"padding":0},
"axis":{"values":[2,24,45,66,89,108,130,150,169,191],"labelExpr":"['7','8','9','10','11','12','1','2','3','4'][indexof([2,24,45,66,89,108,130,150,169,191], datum.value)]","grid":true,"gridColor":"#dddddd","domain":false,"ticks":false,"labelPadding":10,"labelColor":"#808080","labelFontSize":12.5,"labelFont":"DejaVu Sans","title":null,"labelFlush":false}},
"x2":{"field":"i2"},
"y":{"field":"p1","type":"quantitative","scale":{"domain":[47.04,61.76],"nice":false,"zero":false},"axis":{"orient":"left","values":[48,50,52,54,56,58,60],"format":"d","grid":true,"gridColor":"#dddddd","domain":false,"ticks":false,"labelPadding":24,"labelColor":"#808080","labelFontSize":12.5,"labelFont":"DejaVu Sans","title":null}},
"y2":{"field":"p2"},
"fill":{"field":"t","type":"nominal","scale":{"domain":["g","r"],"range":["#c8fcc8","#ffe6e6"]},"legend":null},
"fillOpacity":{"value":0.85}}},
{"data":{"name":"c"},"mark":{"type":"bar","width":2.6},
"encoding":{"x":{"field":"i","type":"quantitative"},
"y":{"field":"v","type":"quantitative","scale":{"domain":[-2153,3367],"nice":false,"zero":false},"axis":null},
"y2":{"datum":0},
"color":{"field":"s","type":"nominal","scale":{"domain":["g","r","b","o"],"range":["#2e8b2e","#b22222","#2e8b2e","#b22222"]},"legend":null},
"opacity":{"condition":{"test":"datum.v>105","value":0.85},"value":0.45}}},
{"data":{"name":"dots"},"mark":{"type":"rule","strokeDash":[1.5,2],"strokeWidth":1},
"encoding":{"x":{"field":"i","type":"quantitative"},
"y":{"field":"lo","type":"quantitative","scale":{"domain":[47.04,61.76],"nice":false,"zero":false},"axis":null},
"y2":{"datum":52.85},
"color":{"field":"k","type":"nominal","scale":{"domain":["g","r"],"range":["#33aa33","#dd4444"]},"legend":null}}},
{"data":{"name":"hl"},"mark":{"type":"rule","strokeWidth":1},
"encoding":{"x":{"field":"i","type":"quantitative"},"x2":{"field":"i2"},
"y":{"field":"v","type":"quantitative","scale":{"domain":[47.04,61.76],"nice":false,"zero":false},"axis":null},
"color":{"field":"k","type":"nominal","scale":{"domain":["b","d"],"range":["#2a2aff","#555577"]},"legend":null}}},
{"data":{"name":"c"},"mark":{"type":"rule","strokeWidth":0.9},
"encoding":{"x":{"field":"i","type":"quantitative"},
"y":{"field":"l","type":"quantitative","scale":{"domain":[47.04,61.76],"nice":false,"zero":false},"axis":null},
"y2":{"field":"h"},
"color":{"field":"s","type":"nominal","scale":{"domain":["g","r","b","o"],"range":["#2e8b2e","#b22222","#0000ff","#ff9900"]},"legend":null}}},
{"data":{"name":"c"},"mark":{"type":"bar","width":2.6},
"encoding":{"x":{"field":"i","type":"quantitative"},
"y":{"field":"o","type":"quantitative","scale":{"domain":[47.04,61.76],"nice":false,"zero":false},"axis":null},
"y2":{"field":"c"},
"color":{"field":"s","type":"nominal","scale":{"domain":["g","r","b","o"],"range":["#2e8b2e","#b22222","#0000ff","#ff9900"]},"legend":null}}},
{"data":{"name":"lines"},"mark":{"type":"line","interpolate":"monotone"},
"encoding":{"x":{"field":"i","type":"quantitative"},
"y":{"field":"v","type":"quantitative","scale":{"domain":[47.04,61.76],"nice":false,"zero":false},"axis":{"orient":"right","values":[48,50,52,54,56,58,60],"format":"d","grid":false,"domain":false,"ticks":false,"labelPadding":13,"labelColor":"#808080","labelFontSize":12.5,"labelFont":"DejaVu Sans","title":null}},
"color":{"field":"k","type":"nominal","scale":{"domain":["ma20","ma50","ma100","ma200","bbu","bbl"],"range":["#111111","#ffa820","#8a168a","#1a1aff","#9a9a9a","#9a9a9a"]},"legend":null},
"strokeWidth":{"field":"k","type":"nominal","scale":{"domain":["ma20","ma50","ma100","ma200","bbu","bbl"],"range":[0.8,1,0.9,0.8,0.9,0.9]},"legend":null}}},
{"data":{"name":"tl"},"mark":{"type":"line","color":"#a43fb4","strokeWidth":1.2},
"encoding":{"x":{"field":"i","type":"quantitative"},
"y":{"field":"v","type":"quantitative","scale":{"domain":[47.04,61.76],"nice":false,"zero":false},"axis":null},
"detail":{"field":"g","type":"nominal"}}},
{"data":{"name":"wm"},"mark":{"type":"text","font":"DejaVu Sans","fontWeight":"bold","fontSize":16,"color":"#d0d0d0","align":"center","baseline":"middle"},
"encoding":{"x":{"datum":90.1,"type":"quantitative"},"y":{"datum":61.27,"type":"quantitative","scale":{"domain":[47.04,61.76],"nice":false,"zero":false},"axis":null},"text":{"field":"t"}}},
{"data":{"name":"hdr"},"mark":{"type":"text","font":"DejaVu Sans","fontSize":13.8,"color":"#14148c","align":"left","baseline":"middle"},
"encoding":{"x":{"datum":108.5,"type":"quantitative"},"y":{"datum":61.24,"type":"quantitative","scale":{"domain":[47.04,61.76],"nice":false,"zero":false},"axis":null},"text":{"field":"t"}}}
],
"resolve":{"scale":{"y":"independent","color":"independent","strokeWidth":"independent","opacity":"independent","fill":"independent"}}
}
